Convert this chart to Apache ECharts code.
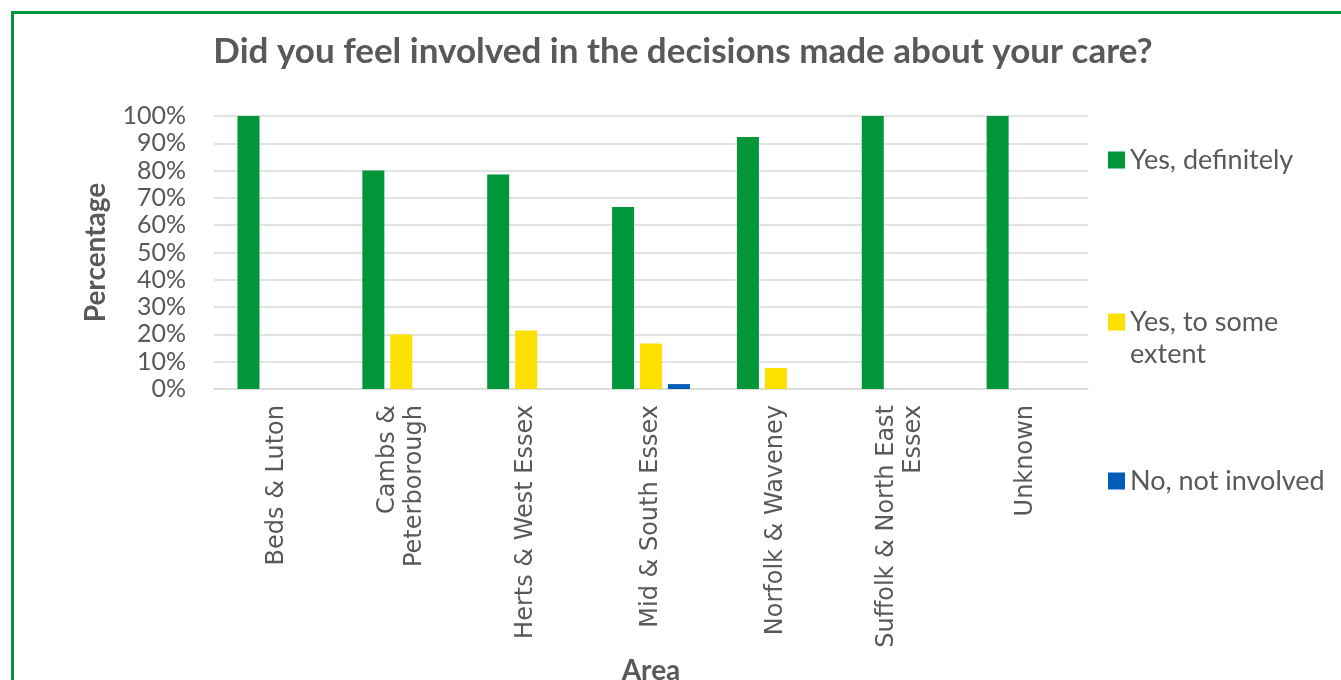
<!DOCTYPE html>
<html>
<head>
<meta charset="utf-8">
<title>Involvement in care decisions by area</title>
<script src="https://cdn.jsdelivr.net/npm/echarts@6/dist/echarts.min.js"></script>
<style>
  html, body { margin: 0; padding: 0; background: #fff; overflow: hidden; }
  #frame {
    position: absolute; left: 11px; top: 11px; width: 1400px; height: 760px;
    border: 3px solid #009639; box-sizing: border-box;
  }
  #chart { position: absolute; left: 0; top: 0; width: 1341px; height: 680px; }
</style>
</head>
<body>
<div id="frame"></div>
<div id="chart"></div>
<script>
// Areas on the x axis
const areas = [
  'Beds & Luton',
  'Cambs &\nPeterborough',
  'Herts & West Essex',
  'Mid & South Essex',
  'Norfolk & Waveney',
  'Suffolk & North East\nEssex',
  'Unknown'
];

// Share of responses per area (%)
const yesDefinitely = [100, 80, 78.6, 66.7, 92.3, 100, 100];
const yesSomeExtent = [0, 20, 21.4, 16.7, 7.7, 0, 0];
const noNotInvolved = [0, 0, 0, 1.8, 0, 0, 0];

const seriesNames = ['Yes, definitely', 'Yes, to some\nextent', 'No, not involved'];
const seriesColors = ['#009639', '#FCE100', '#005EB8'];

// Percentage ticks
const yTicks = ['0%', '10%', '20%', '30%', '40%', '50%', '60%', '70%', '80%', '90%', '100%'];

const FONT = 'Lato';
const LABEL_FONT = 'DejaVu Sans';
const GREY = '#595959';
const LEGEND_LINE = 32;

const chart = echarts.init(document.getElementById('chart'), null, { renderer: 'canvas' });

// One legend block per series so each entry can sit at its own height.
// A wrapped name gets a blank line on top so its first line stays level with the swatch.
function legendAt(name, top) {
  const wrapped = name.indexOf('\n') >= 0;
  return {
    show: true,
    data: [name],
    left: 1108,
    top: top,
    padding: 0,
    orient: 'vertical',
    itemWidth: 17,
    itemHeight: 17,
    itemGap: 0,
    icon: 'rect',
    selectedMode: false,
    formatter: function (n) { return wrapped ? ' \n' + n : n; },
    textStyle: { fontFamily: FONT, fontSize: 27, color: GREY, lineHeight: LEGEND_LINE }
  };
}

const values = [yesDefinitely, yesSomeExtent, noNotInvolved];

chart.setOption({
  animation: false,
  title: {
    text: 'Did you feel involved in the decisions made about your care?',
    left: 683,
    top: 34,
    padding: 0,
    textAlign: 'center',
    textStyle: { fontFamily: FONT, fontWeight: 'bold', fontSize: 35, color: GREY }
  },
  legend: [
    legendAt(seriesNames[0], 160 - LEGEND_LINE / 2),
    legendAt(seriesNames[1], 322 - LEGEND_LINE * 1.5),
    legendAt(seriesNames[2], 481 - LEGEND_LINE / 2)
  ],
  grid: {
    left: 214, right: 253, top: 116, bottom: 291,
    containLabel: false, outerBoundsMode: 'none'
  },
  xAxis: {
    type: 'category',
    data: areas,
    name: 'Area',
    nameLocation: 'middle',
    nameGap: 268,
    nameTextStyle: { fontFamily: FONT, fontWeight: 'bold', fontSize: 28, color: GREY },
    axisLine: { lineStyle: { color: '#d9d9d9', width: 1.5 } },
    axisTick: { show: false },
    axisLabel: {
      interval: 0, rotate: 90, margin: 16,
      fontFamily: LABEL_FONT, fontSize: 24, color: GREY, lineHeight: 27
    }
  },
  yAxis: {
    type: 'value',
    min: 0, max: 100, interval: 10,
    name: 'Percentage',
    nameLocation: 'middle',
    nameGap: 104,
    nameRotate: 90,
    nameTextStyle: { fontFamily: FONT, fontWeight: 'bold', fontSize: 28, color: GREY },
    axisLine: { show: false },
    axisTick: { show: false },
    splitLine: { lineStyle: { color: '#d9d9d9', width: 1.5 } },
    axisLabel: {
      margin: 28,
      fontFamily: FONT, fontSize: 25, color: GREY,
      formatter: function (v) { return yTicks[Math.round(v / 10)]; }
    }
  },
  series: values.map(function (vals, i) {
    return {
      name: seriesNames[i],
      type: 'bar',
      data: vals,
      barWidth: 22,
      barGap: '27%',
      itemStyle: { color: seriesColors[i] }
    };
  })
});
</script>
</body>
</html>
